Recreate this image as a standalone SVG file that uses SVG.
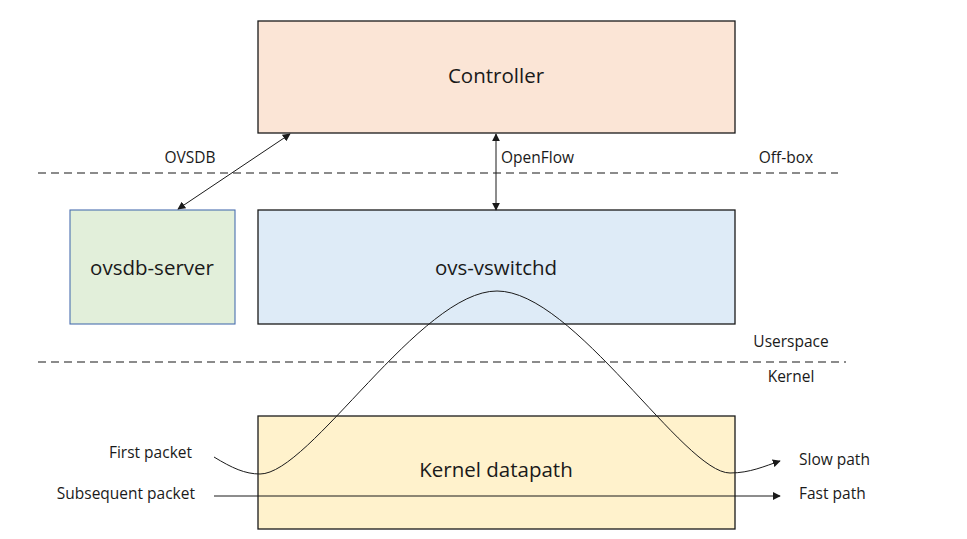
<svg xmlns="http://www.w3.org/2000/svg" width="967" height="539" viewBox="0 0 967 539">
<style>
text{font-family:"Open Sans","Liberation Sans",sans-serif;fill:#1a1a1a}
.lbl{font-size:15.5px}
.big{font-size:20.5px;text-anchor:middle}
.box{stroke:#1a1a1a;stroke-width:1.3}
.dash{stroke:#666;stroke-width:1.3;stroke-dasharray:8,5;fill:none}
.ln{stroke:#1a1a1a;stroke-width:1;fill:none}
</style>
<defs>
<marker id="ah" viewBox="0 0 10 10" refX="9" refY="5" markerWidth="8" markerHeight="8" markerUnits="userSpaceOnUse" orient="auto-start-reverse">
<path d="M0,0 L10,5 L0,10 z" fill="#1a1a1a"/>
</marker>
</defs>
<rect width="967" height="539" fill="#fff"/>
<g id="dividers">
<line class="dash" x1="38" y1="173" x2="838" y2="173"/>
<line class="dash" x1="38" y1="362" x2="846" y2="362"/>
</g>
<g id="controller">
<rect class="box" x="258" y="21" width="477" height="112" fill="#FBE5D6"/>
<text class="big" x="496" y="83">Controller</text>
</g>
<g id="ovsdb-server">
<rect x="70" y="210" width="165" height="114" fill="#E2EFDA" stroke="#4A6FB0" stroke-width="1.1"/>
<text class="big" x="152" y="275">ovsdb-server</text>
</g>
<g id="ovs-vswitchd">
<rect class="box" x="258" y="210" width="477" height="114" fill="#DEEBF7"/>
<text class="big" x="496" y="275">ovs-vswitchd</text>
</g>
<g id="kernel-datapath">
<rect class="box" x="258" y="416" width="477" height="113" fill="#FFF2CC"/>
<text class="big" x="496" y="477">Kernel datapath</text>
</g>
<g id="connectors">
<line class="ln" x1="178" y1="209" x2="290" y2="134" marker-start="url(#ah)" marker-end="url(#ah)"/>
<line class="ln" x1="496" y1="134" x2="496" y2="210" marker-start="url(#ah)" marker-end="url(#ah)"/>
<path class="ln" d="M214,457 C232,468 245,474 260,474 C310,474 420,291 497,291 C574,291 684,473 730,473 C750,473 765,466 780,461" marker-end="url(#ah)"/>
<line class="ln" x1="214" y1="496" x2="780" y2="496" marker-end="url(#ah)"/>
</g>
<g id="labels">
<text class="lbl" x="190" y="163" text-anchor="middle">OVSDB</text>
<text class="lbl" x="501" y="163">OpenFlow</text>
<text class="lbl" x="786" y="163" text-anchor="middle">Off-box</text>
<text class="lbl" x="791" y="347" text-anchor="middle">Userspace</text>
<text class="lbl" x="791" y="382" text-anchor="middle">Kernel</text>
<text class="lbl" x="192" y="458" text-anchor="end">First packet</text>
<text class="lbl" x="195" y="499" text-anchor="end">Subsequent packet</text>
<text class="lbl" x="799" y="465">Slow path</text>
<text class="lbl" x="799" y="499">Fast path</text>
</g>
</svg>
